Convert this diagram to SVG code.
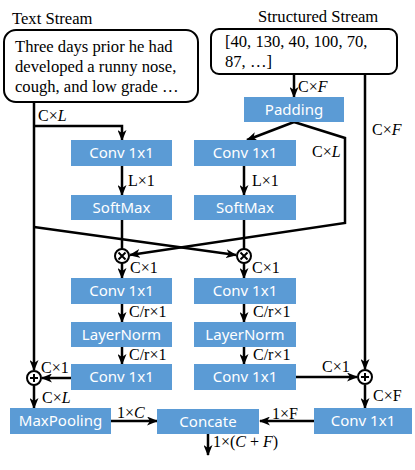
<svg xmlns="http://www.w3.org/2000/svg" width="415" height="470" viewBox="0 0 415 470">
<style>
.box{fill:#5B9BD5}
.bt{font-family:"Noto Sans","Open Sans",sans-serif;font-size:15px;fill:#fff;text-anchor:middle}
.lb{font-family:"Liberation Serif",serif;font-size:16px;fill:#000}
.it{font-style:italic}
.tx{font-family:"Liberation Serif",serif;font-size:16.6px;fill:#000}
.ln{fill:none;stroke:#000;stroke-width:2.5}
.ar{marker-end:url(#ah)}
.op{fill:#fff;stroke:#000;stroke-width:2}
</style>
<defs>
<marker id="ah" markerUnits="userSpaceOnUse" markerWidth="11" markerHeight="9" refX="10" refY="4.5" orient="auto">
<path d="M0,0 L11,4.5 L0,9 L3,4.5 z" fill="#000"/>
</marker>
</defs>
<rect width="415" height="470" fill="#fff"/>

<g id="connectors">
<path class="ln ar" d="M34,102 V370"/>
<path class="ln ar" d="M34,126 H122 V140"/>
<path class="ln ar" d="M122,166 V195"/>
<path class="ln" d="M122,220 V249"/>
<path class="ln ar" d="M122,263 V278"/>
<path class="ln ar" d="M122,304 V322"/>
<path class="ln ar" d="M122,347 V364"/>
<path class="ln ar" d="M71,378 H42"/>
<path class="ln ar" d="M34,385 V408"/>
<path class="ln ar" d="M111,421 H157"/>
<path class="ln ar" d="M34,227 L236,255"/>
<path class="ln ar" d="M294,74 V97"/>
<path class="ln ar" d="M294,122 L247,140"/>
<path class="ln ar" d="M294,122 L345,138 V223 L130,255"/>
<path class="ln ar" d="M244,166 V195"/>
<path class="ln" d="M244,220 V249"/>
<path class="ln ar" d="M244,263 V278"/>
<path class="ln ar" d="M244,304 V322"/>
<path class="ln ar" d="M244,347 V364"/>
<path class="ln ar" d="M296,377 H357"/>
<path class="ln ar" d="M365,74 V369"/>
<path class="ln ar" d="M365,385 V408"/>
<path class="ln ar" d="M314,421 H260"/>
<path class="ln ar" d="M208,434 V455"/>
</g>

<g id="text-stream">
<text class="tx" x="12" y="24" font-size="16.8">Text Stream</text>
<rect x="4" y="30" width="194" height="72" rx="12" fill="#fff" stroke="#000" stroke-width="2"/>
<text class="tx" x="15" y="52">Three days prior he had</text>
<text class="tx" x="15" y="72">developed a runny nose,</text>
<text class="tx" x="15" y="92">cough, and low grade  …</text>
</g>

<g id="structured-stream">
<text class="tx" x="258" y="22" font-size="16.8">Structured Stream</text>
<rect x="211" y="29" width="186" height="45" rx="8" fill="#fff" stroke="#000" stroke-width="2"/>
<text class="tx" x="225" y="47" font-size="17.5">[40, 130, 40, 100, 70,</text>
<text class="tx" x="225" y="67" font-size="17.5">87, …]</text>
</g>

<g id="padding"><rect class="box" x="244" y="97" width="100" height="25"/><text class="bt" x="294" y="115">Padding</text></g>

<g id="conv-l1"><rect class="box" x="71" y="140" width="101" height="26"/><text class="bt" x="121.5" y="158">Conv 1x1</text></g>
<g id="softmax-l"><rect class="box" x="71" y="195" width="101" height="25"/><text class="bt" x="121.5" y="213">SoftMax</text></g>
<g id="conv-l2"><rect class="box" x="71" y="278" width="101" height="26"/><text class="bt" x="121.5" y="296">Conv 1x1</text></g>
<g id="layernorm-l"><rect class="box" x="71" y="322" width="101" height="25"/><text class="bt" x="121.5" y="340">LayerNorm</text></g>
<g id="conv-l3"><rect class="box" x="71" y="364" width="101" height="26"/><text class="bt" x="121.5" y="382">Conv 1x1</text></g>

<g id="conv-r1"><rect class="box" x="194" y="140" width="102" height="26"/><text class="bt" x="245" y="158">Conv 1x1</text></g>
<g id="softmax-r"><rect class="box" x="194" y="195" width="102" height="25"/><text class="bt" x="245" y="213">SoftMax</text></g>
<g id="conv-r2"><rect class="box" x="194" y="278" width="102" height="26"/><text class="bt" x="245" y="296">Conv 1x1</text></g>
<g id="layernorm-r"><rect class="box" x="194" y="322" width="102" height="25"/><text class="bt" x="245" y="340">LayerNorm</text></g>
<g id="conv-r3"><rect class="box" x="194" y="364" width="102" height="26"/><text class="bt" x="245" y="382">Conv 1x1</text></g>

<g id="maxpooling"><rect class="box" x="10" y="408" width="101" height="26"/><text class="bt" x="60.5" y="426">MaxPooling</text></g>
<g id="concate"><rect class="box" x="157" y="409" width="102" height="25"/><text class="bt" x="208" y="427">Concate</text></g>
<g id="conv-out"><rect class="box" x="314" y="408" width="98" height="26"/><text class="bt" x="363" y="426">Conv 1x1</text></g>

<g id="mult-l"><circle class="op" cx="122" cy="256" r="7"/><path d="M118.5,252.5 L125.5,259.5 M125.5,252.5 L118.5,259.5" stroke="#000" stroke-width="2"/></g>
<g id="mult-r"><circle class="op" cx="244" cy="256" r="7"/><path d="M240.5,252.5 L247.5,259.5 M247.5,252.5 L240.5,259.5" stroke="#000" stroke-width="2"/></g>
<g id="plus-l"><circle class="op" cx="34" cy="378" r="7"/><path d="M30,378 H38 M34,374 V382" stroke="#000" stroke-width="2"/></g>
<g id="plus-r"><circle class="op" cx="365" cy="377" r="7"/><path d="M361,377 H369 M365,373 V381" stroke="#000" stroke-width="2"/></g>

<g id="labels">
<text class="lb" x="38" y="121">C×<tspan class="it">L</tspan></text>
<text class="lb" x="298" y="92">C×<tspan class="it">F</tspan></text>
<text class="lb" x="372" y="135">C×<tspan class="it">F</tspan></text>
<text class="lb" x="312" y="157">C×<tspan class="it">L</tspan></text>
<text class="lb" x="128" y="186">L×1</text>
<text class="lb" x="252" y="186">L×1</text>
<text class="lb" x="130" y="273">C×1</text>
<text class="lb" x="252" y="273">C×1</text>
<text class="lb" x="129" y="317">C/r×1</text>
<text class="lb" x="253" y="317">C/r×1</text>
<text class="lb" x="129" y="360">C/r×1</text>
<text class="lb" x="253" y="360">C/r×1</text>
<text class="lb" x="41" y="373">C×1</text>
<text class="lb" x="322" y="372">C×1</text>
<text class="lb" x="42" y="403">C×<tspan class="it">L</tspan></text>
<text class="lb" x="373" y="401">C×F</text>
<text class="lb" x="117" y="418">1×<tspan class="it">C</tspan></text>
<text class="lb" x="272" y="419">1×F</text>
<text class="lb" x="213" y="447">1×(<tspan class="it">C</tspan> + <tspan class="it">F</tspan>)</text>
</g>
</svg>
